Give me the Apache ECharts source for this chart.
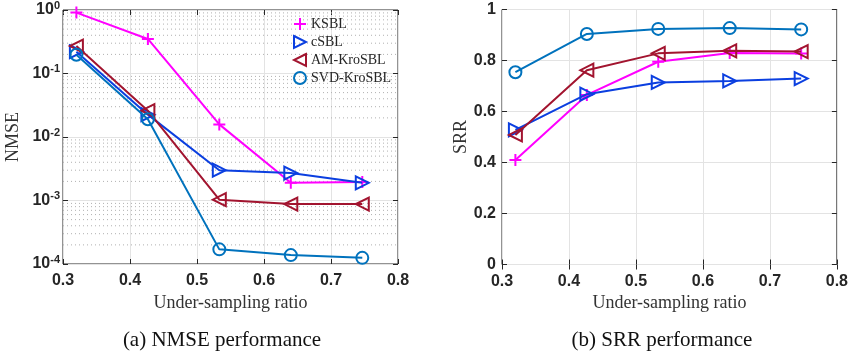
<!DOCTYPE html>
<html><head><meta charset="utf-8">
<script src="https://cdn.jsdelivr.net/npm/echarts@6/dist/echarts.min.js"></script>
<style>html,body{margin:0;padding:0;background:#fff}#c{width:851px;height:355px}</style>
</head><body><div id="c"></div>
<script>
// ---- data ----
const ratios = [0.32, 0.4267, 0.5333, 0.64, 0.7467];
const seriesNames = ['KSBL', 'cSBL', 'AM-KroSBL', 'SVD-KroSBL'];
const nmseKSBL = [0.91, 0.35, 0.0158, 0.0019, 0.00195];
const nmseCSBL = [0.22, 0.0225, 0.0030, 0.0027, 0.0019];
const nmseAM   = [0.27, 0.026, 0.00103, 0.00088, 0.00088];
const nmseSVD  = [0.197, 0.019, 0.00017, 0.000138, 0.000125];
const srrKSBL = [0.41, 0.665, 0.795, 0.829, 0.827];
const srrCSBL = [0.528, 0.668, 0.714, 0.72, 0.729];
const srrAM   = [0.508, 0.762, 0.828, 0.838, 0.835];
const srrSVD  = [0.754, 0.904, 0.924, 0.927, 0.922];
const xTicks = [0.3, 0.4, 0.5, 0.6, 0.7, 0.8];
const nmseDecades = [-4, -3, -2, -1, 0];
const srrTicks = [0, 0.2, 0.4, 0.6, 0.8, 1];
const captions = ['(a) NMSE performance', '(b) SRR performance'];

// ---- styles ----
const colors = ['#ff00ff', '#0b3fe0', '#a2142f', '#0072bd'];
const symbols = [
  'path://M5,0V10M0,5H10',
  'path://M0,0L10,5L0,10Z',
  'path://M10,0L0,5L10,10Z',
  'circle'
];
const symSizes = [12, 13, 13, 12];
const axisColor = '#262626';
const sansB = 'Liberation Sans, Arial, sans-serif';
const tickFont = {fontFamily: sansB, fontWeight: 'bold', fontSize: 16, color: axisColor};
const serif = 'Liberation Serif, Times New Roman, serif';

// minor grid (log axis) drawn as horizontal segments through the axis scale
const minorGrid = [];
for (let e = nmseDecades[0]; e < nmseDecades[nmseDecades.length - 1]; e++) {
  for (let k = 2; k <= 9; k++) {
    const v = k * Math.pow(10, e);
    minorGrid.push([xTicks[0], v], [xTicks[xTicks.length - 1], v], '-');
  }
}

function pairs(ys) { return ratios.map((x, i) => [x, ys[i]]); }

function mkSeries(vals, xi, yi) {
  return vals.map((v, i) => ({
    name: seriesNames[i], type: 'line', xAxisIndex: xi, yAxisIndex: yi,
    data: pairs(v), symbol: symbols[i], symbolSize: symSizes[i],
    lineStyle: {color: colors[i], width: 2},
    itemStyle: {color: 'transparent', borderColor: colors[i], borderWidth: 2},
    emphasis: {disabled: true}, z: 5 + i, animation: false
  }));
}

const xBase = (gi) => ({
  type: 'value', gridIndex: gi, min: 0.3, max: 0.8, interval: 0.1,
  axisLine: {show: false}, axisTick: {inside: true, length: 5, lineStyle: {color: axisColor}},
  splitLine: {show: true, lineStyle: {color: '#e3e3e3', width: 1}},
  axisLabel: Object.assign({margin: 9, formatter: v => v.toFixed(1)}, tickFont),
  name: 'Under-sampling ratio', nameLocation: 'middle', nameGap: 27,
  nameTextStyle: {fontFamily: serif, fontSize: 18, color: '#333'}
});
const xTop = (gi) => ({
  type: 'value', gridIndex: gi, min: 0.3, max: 0.8, interval: 0.1, position: 'top',
  axisLine: {show: false}, axisTick: {inside: true, length: 5, lineStyle: {color: axisColor}},
  splitLine: {show: false}, axisLabel: {show: false}
});

const option = {
  backgroundColor: '#fff',
  animation: false,
  grid: [
    {left: 63, right: 453, top: 9.5, bottom: 91, show: true, borderColor: axisColor, borderWidth: 1, backgroundColor: 'transparent'},
    {left: 502, right: 13.5, top: 9.5, bottom: 90.5, show: true, borderColor: axisColor, borderWidth: 1, backgroundColor: 'transparent'}
  ],
  xAxis: [xBase(0), xTop(0), xBase(1), xTop(1)],
  yAxis: [
    {type: 'log', logBase: 10, gridIndex: 0, min: 1e-4, max: 1,
     axisLine: {show: false}, axisTick: {inside: true, length: 5, lineStyle: {color: axisColor}},
     splitLine: {show: true, lineStyle: {color: '#e3e3e3'}},
     axisLabel: {margin: 3, formatter: v => '{b|10}{s|' + Math.round(Math.log10(v)) + '}',
       rich: {b: {fontFamily: sansB, fontWeight: 'bold', fontSize: 16, color: axisColor},
              s: {fontFamily: sansB, fontWeight: 'bold', fontSize: 11, color: axisColor, padding: [0, 0, 9, 0]}}},
     name: 'NMSE', nameLocation: 'middle', nameGap: 41,
     nameTextStyle: {fontFamily: serif, fontSize: 18, color: '#333'}},
    {type: 'log', logBase: 10, gridIndex: 0, min: 1e-4, max: 1, position: 'right',
     axisLine: {show: false}, axisTick: {inside: true, length: 5, lineStyle: {color: axisColor}},
     splitLine: {show: false}, axisLabel: {show: false}},
    {type: 'value', gridIndex: 1, min: 0, max: 1, interval: 0.2,
     axisLine: {show: false}, axisTick: {inside: true, length: 5, lineStyle: {color: axisColor}},
     splitLine: {show: true, lineStyle: {color: '#e3e3e3'}},
     axisLabel: Object.assign({margin: 6, formatter: v => (v === 0 || v === 1) ? String(v) : v.toFixed(1)}, tickFont),
     name: 'SRR', nameLocation: 'middle', nameGap: 30,
     nameTextStyle: {fontFamily: serif, fontSize: 18, color: '#333'}},
    {type: 'value', gridIndex: 1, min: 0, max: 1, interval: 0.2, position: 'right',
     axisLine: {show: false}, axisTick: {inside: true, length: 5, lineStyle: {color: axisColor}},
     splitLine: {show: false}, axisLabel: {show: false}}
  ],
  legend: {
    show: true, orient: 'vertical', left: 288, top: 12, itemGap: 4, padding: 5,
    itemWidth: 12, itemHeight: 12,
    textStyle: {fontFamily: serif, fontSize: 14, color: axisColor},
    lineStyle: {opacity: 0},
    data: seriesNames.map((n, i) => ({name: n, icon: symbols[i],
      itemStyle: {color: 'transparent', borderColor: colors[i], borderWidth: 2}})),
    selectedMode: false
  },
  graphic: [
    {type: 'text', style: {text: captions[0], x: 222, y: 340, align: 'center', verticalAlign: 'middle', font: '21px ' + serif, fill: '#111'}},
    {type: 'text', style: {text: captions[1], x: 662, y: 340, align: 'center', verticalAlign: 'middle', font: '21px ' + serif, fill: '#111'}}
  ],
  series: [
    {type: 'line', xAxisIndex: 0, yAxisIndex: 0, data: minorGrid, z: 1, silent: true,
     symbol: 'none', connectNulls: false, legendHoverLink: false,
     lineStyle: {type: [1, 3], color: '#b0b0b0', width: 1}, emphasis: {disabled: true}}
  ].concat(mkSeries([nmseKSBL, nmseCSBL, nmseAM, nmseSVD], 0, 0))
   .concat(mkSeries([srrKSBL, srrCSBL, srrAM, srrSVD], 2, 2))
};
const chart = echarts.init(document.getElementById('c'), null, {renderer: 'canvas'});
chart.setOption(option);
</script></body></html>
